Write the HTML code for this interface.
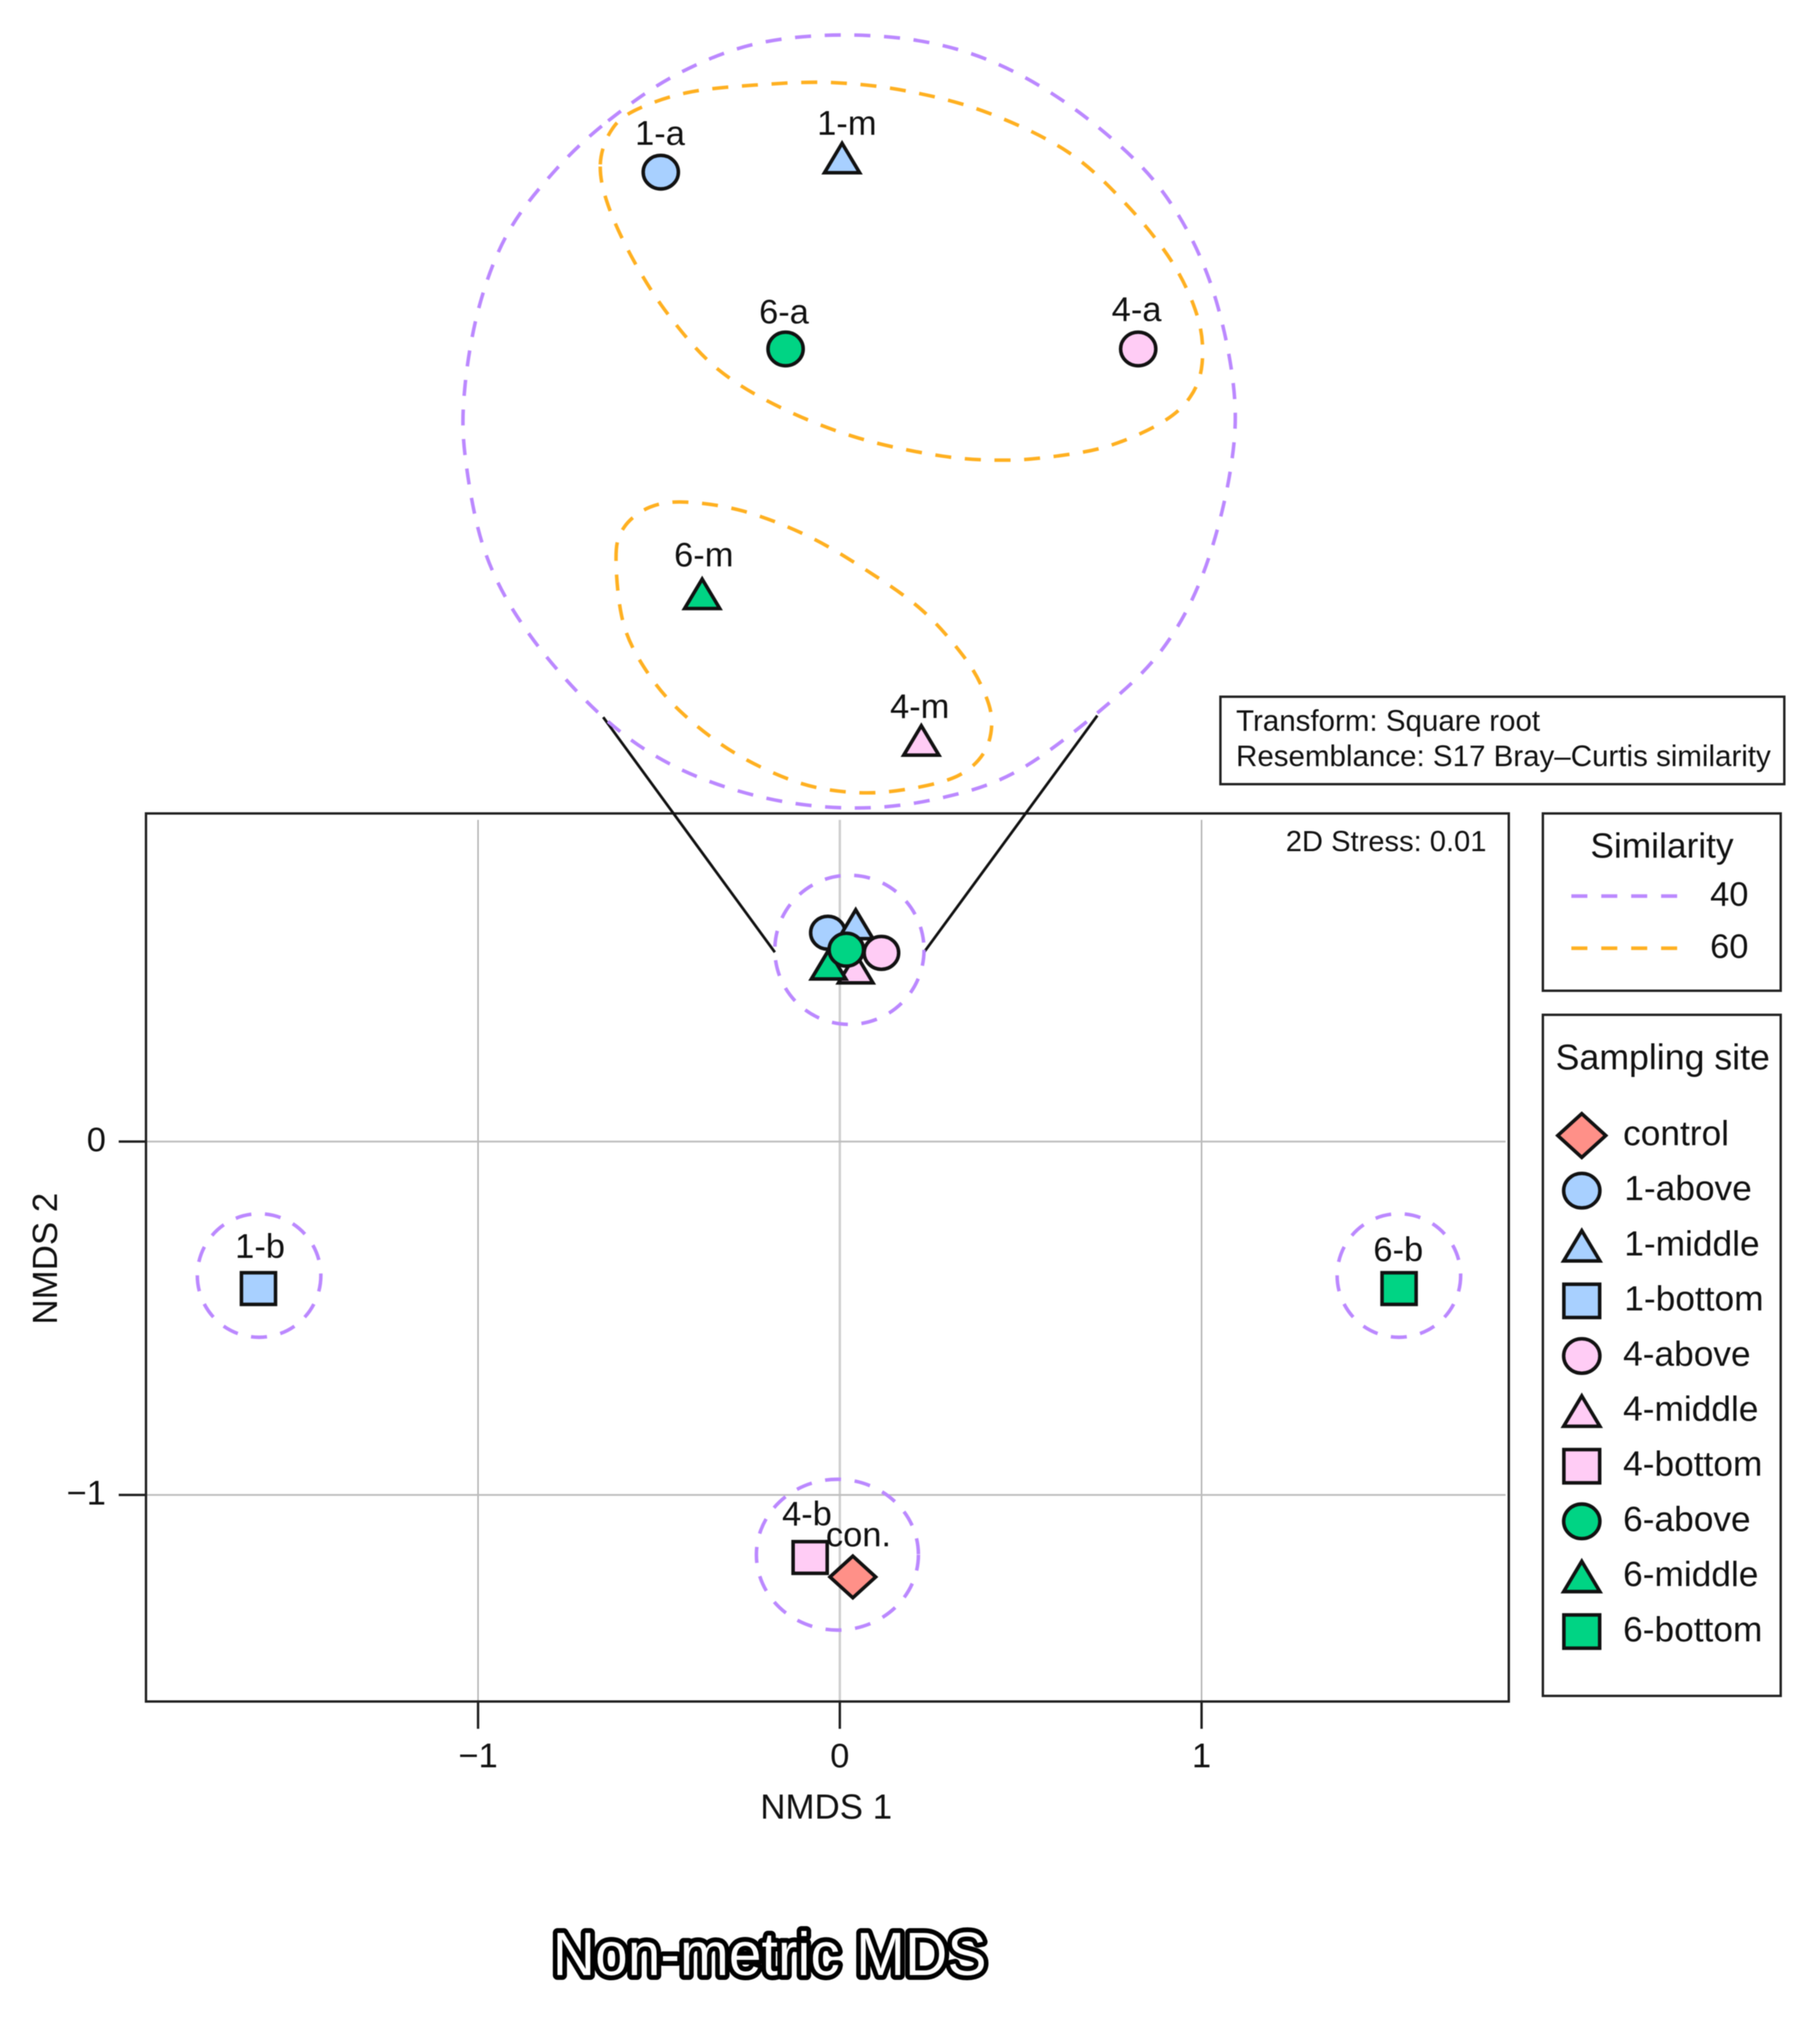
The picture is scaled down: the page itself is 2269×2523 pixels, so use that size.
<!DOCTYPE html>
<html lang="en">
<head>
<meta charset="utf-8">
<title>Non-metric MDS</title>
<style>
html,body{margin:0;padding:0;background:#fff;}
svg{display:block;filter:blur(0.6px);}
text{font-family:"Liberation Sans",sans-serif;fill:#111;}
</style>
</head>
<body>
<svg id="chart" xmlns="http://www.w3.org/2000/svg" width="2269" height="2523" viewBox="0 0 2269 2523">
  <rect x="0" y="0" width="2269" height="2523" fill="#fff"/>

  <g id="grid"></g>
  <rect x="182" y="1014" width="1699" height="1107" fill="none" stroke="#222" stroke-width="3"/>
  <g id="ticks"></g>

  <text x="1030" y="2267" font-size="43.5" text-anchor="middle">NMDS 1</text>
  <text transform="translate(71,1569) rotate(-90)" font-size="43.5" text-anchor="middle">NMDS 2</text>
  <text x="1603" y="1061" font-size="36.3">2D Stress: 0.01</text>

  <line x1="752" y1="894" x2="966" y2="1187" stroke="#111" stroke-width="3.4"/>
  <line x1="1368" y1="892" x2="1152" y2="1187" stroke="#111" stroke-width="3.4"/>

  <g fill="none" stroke="#bb88ff" stroke-width="4.4" stroke-dasharray="20 17">
    <ellipse cx="1059" cy="1184" rx="93" ry="93"/>
    <ellipse cx="323" cy="1590" rx="77" ry="77"/>
    <ellipse cx="1744" cy="1590" rx="77" ry="77"/>
    <ellipse cx="1044" cy="1938" rx="101" ry="94"/>
    <path class="outline"
      data-outline="320,205 450,115 600,55 775,37 950,55 1100,110 1250,210 1380,340 1470,510 1518,720 1512,890 1460,1090 1380,1240 1260,1360 1100,1478 950,1530 790,1548 620,1528 450,1468 310,1370 170,1210 85,1050 46,860 46,720 75,560 130,420 220,300"/>
  </g>
  <g fill="none" stroke="#ffb020" stroke-width="4.4" stroke-dasharray="20 17">
    <path class="outline"
      data-outline="305,290 325,225 370,185 470,150 600,135 750,130 900,148 1050,190 1200,265 1310,365 1400,480 1450,590 1458,680 1435,745 1380,795 1280,840 1180,860 1080,868 960,860 800,825 650,765 530,690 440,590 370,480 320,370"/>
    <path class="outline"
      data-outline="335,1060 350,1000 400,960 470,950 580,968 700,1015 810,1080 920,1160 1000,1250 1040,1320 1055,1380 1040,1440 990,1485 900,1510 800,1518 690,1500 570,1445 470,1370 400,1290 350,1190"/>
  </g>

  <g id="points"></g>
  <g id="inset"></g>

  <g>
    <rect x="1521.5" y="868.5" width="703" height="109" fill="#fff" stroke="#222" stroke-width="3"/>
    <text x="1541" y="911" font-size="36.8">Transform: Square root</text>
    <text x="1541" y="955" font-size="36.8">Resemblance: S17 Bray–Curtis similarity</text>
  </g>

  <g>
    <rect x="1923.5" y="1014" width="296.5" height="221" fill="#fff" stroke="#222" stroke-width="3"/>
    <text x="2072" y="1069" font-size="44" text-anchor="middle">Similarity</text>
    <line x1="1959" y1="1117" x2="2091" y2="1117" stroke="#bb88ff" stroke-width="4.4" stroke-dasharray="20 17.3"/>
    <text x="2132" y="1129" font-size="43">40</text>
    <line x1="1959" y1="1182" x2="2091" y2="1182" stroke="#ffb020" stroke-width="4.4" stroke-dasharray="20 17.3"/>
    <text x="2132" y="1194" font-size="43">60</text>
  </g>

  <g>
    <rect x="1923.5" y="1265" width="296.5" height="849" fill="#fff" stroke="#222" stroke-width="3"/>
    <text x="2073" y="1333" font-size="44.5" text-anchor="middle">Sampling site</text>
    <g id="legend"></g>
  </g>

  <text x="689" y="2462" font-size="76" textLength="541" lengthAdjust="spacingAndGlyphs" style="fill:#fff;stroke:#000;stroke-width:12;stroke-linejoin:round;paint-order:stroke fill;">Non-metric MDS</text>
</svg>

<script>
// Sample categories and styles
const plotLabels = ['1-a', '1-m', '1-b', '4-m', '4-a', '4-b', '6-m', '6-a', '6-b', 'con.'];
const plotShapes = ['circle', 'triangle', 'square', 'triangle', 'circle', 'square', 'triangle', 'circle', 'square', 'diamond'];
const plotFills = ['#a8d0ff', '#a8d0ff', '#a8d0ff', '#ffccf5', '#ffccf5', '#ffccf5', '#00d484', '#00d484', '#00d484', '#ff9088'];

// Ordination scores
const nmds1 = [-0.033, 0.044, -1.607, 0.044, 0.115, -0.082, -0.031, 0.018, 1.546, 0.036];
const nmds2 = [0.591, 0.615, -0.416, 0.490, 0.534, -1.177, 0.501, 0.543, -0.416, -1.232];

// Labels shown beside points in the main plot
const mainLabelled = ['1-b', '4-b', '6-b', 'con.'];

// Magnified inset: same samples on a stretched scale
const insetLabels = ['1-a', '1-m', '4-a', '4-m', '6-a', '6-m'];
const insetShapes = ['circle', 'triangle', 'circle', 'triangle', 'circle', 'triangle'];
const insetFills = ['#a8d0ff', '#a8d0ff', '#ffccf5', '#ffccf5', '#00d484', '#00d484'];
const insetNmds1 = [-0.0588, -0.0023, 0.0900, 0.0224, -0.0199, -0.0459];
const insetNmds2 = [0.0551, 0.0595, 0.0000, -0.1220, 0.0000, -0.0763];

// Axis ticks
const xTicks = [-1, 0, 1];
const yTicks = [0, -1];

// Legend entries
const legendNames = ['control', '1-above', '1-middle', '1-bottom', '4-above', '4-middle', '4-bottom', '6-above', '6-middle', '6-bottom'];
const legendShapes = ['diamond', 'circle', 'triangle', 'square', 'circle', 'triangle', 'square', 'circle', 'triangle', 'square'];
const legendFills = ['#ff9088', '#a8d0ff', '#a8d0ff', '#a8d0ff', '#ffccf5', '#ffccf5', '#ffccf5', '#00d484', '#00d484', '#00d484'];

const NS = 'http://www.w3.org/2000/svg';
const xScale = v => 1047 + v * 451;
const yScale = v => 1423 - v * 440.5;
const insetX = v => 1059 + v * 4000;
const insetY = v => 435 - v * 4000;
const legendY = i => 1415.5 + i * 68.7;

function make(tag, attrs, parent) {
  const node = document.createElementNS(NS, tag);
  for (const k in attrs) node.setAttribute(k, attrs[k]);
  parent.appendChild(node);
  return node;
}

function marker(shape, fill, cx, cy, scale, parent) {
  const common = { fill: fill, stroke: '#111', 'stroke-width': 4.4, 'stroke-linejoin': 'miter' };
  let pts;
  if (shape === 'circle') {
    return make('ellipse', Object.assign({ cx: cx, cy: cy, rx: 21.5 * scale, ry: 20.5 * scale }, common), parent);
  }
  if (shape === 'square') {
    const w = 42.5 * scale, h = 39.5 * scale;
    return make('rect', Object.assign({ x: cx - w / 2, y: cy - h / 2, width: w, height: h }, common), parent);
  }
  if (shape === 'triangle') {
    const hw = 21.5 * scale, hh = 18 * scale;
    pts = [cx, cy - hh, cx + hw, cy + hh, cx - hw, cy + hh];
  } else {
    const hw = 28.5 * scale, hh = 26 * scale;
    pts = [cx, cy - hh, cx + hw, cy, cx, cy + hh, cx - hw, cy];
  }
  return make('polygon', Object.assign({ points: pts.join(' ') }, common), parent);
}

function textAt(str, x, y, size, parent) {
  const t = make('text', { x: x, y: y, 'font-size': size, 'text-anchor': 'middle' }, parent);
  t.textContent = str;
  return t;
}

// Grid and ticks
const gridG = document.getElementById('grid');
const ticksG = document.getElementById('ticks');
xTicks.forEach(v => {
  const px = xScale(v);
  const g = make('line', { x1: px, x2: px, y1: 1022, y2: 2121, stroke: v === 0 ? '#cfcfcf' : '#b0b0b0', 'stroke-width': v === 0 ? 3 : 1.8 }, gridG);
  
  
  const t = make('line', { x1: px, x2: px, y1: 2121, y2: 2155, stroke: '#222', 'stroke-width': 3 }, ticksG);
  
  
  const l = textAt(String(v).replace('-', '\u2212'), px, 2203, 43, ticksG);
  
  
});
yTicks.forEach(v => {
  const py = yScale(v);
  const g = make('line', { x1: 182, x2: 1877, y1: py, y2: py, stroke: '#bdbdbd', 'stroke-width': 2.2 }, gridG);
  
  
  const t = make('line', { x1: 148, x2: 182, y1: py, y2: py, stroke: '#222', 'stroke-width': 3 }, ticksG);
  
  
  const l = make('text', { x: 132, y: py + 12, 'font-size': 43, 'text-anchor': 'end' }, ticksG);
  l.textContent = String(v).replace('-', '\u2212');
  
  
});

// Main points
const pointsG = document.getElementById('points');
const mainLabelOffsetX = { '1-b': 2, '4-b': -4, '6-b': -1, 'con.': 7 };
const mainLabelOffsetY = { '1-b': -38, '4-b': -40, '6-b': -34, 'con.': -38 };
plotLabels.forEach((name, i) => {
  const px = xScale(nmds1[i]);
  const py = yScale(nmds2[i]);
  const m = marker(plotShapes[i], plotFills[i], px, py, 1, pointsG);
  
  
});
plotLabels.forEach((name, i) => {
  if (mainLabelled.indexOf(name) < 0) return;
  const l = textAt(name, xScale(nmds1[i]) + mainLabelOffsetX[name], yScale(nmds2[i]) + mainLabelOffsetY[name], 43, pointsG);
  
  
});

// Inset points
const insetG = document.getElementById('inset');
const insetLabelOffsetX = { '1-a': -1, '1-m': 6, '4-a': -2, '4-m': -2, '6-a': -2, '6-m': 2 };
const insetLabelOffsetY = { '1-a': -34, '1-m': -29, '4-a': -35, '4-m': -28, '6-a': -32, '6-m': -34 };
insetLabels.forEach((name, i) => {
  const px = insetX(insetNmds1[i]);
  const py = insetY(insetNmds2[i]);
  const m = marker(insetShapes[i], insetFills[i], px, py, 1.02, insetG);
  
  
  const l = textAt(name, px + insetLabelOffsetX[name], py + insetLabelOffsetY[name], 43, insetG);
  
  
});

// Legend
const legendG = document.getElementById('legend');
legendNames.forEach((name, i) => {
  const y = legendY(i);
  const m = marker(legendShapes[i], legendFills[i], 1972, y, 1.05, legendG);
  
  
  const t = make('text', { x: name.charAt(0) === '1' ? 2025 : 2023.5, y: y + 12, 'font-size': 44 }, legendG);
  t.textContent = name;
  
  
});

// Inset contour outlines: smooth closed curves through hand-traced anchors
document.querySelectorAll('path.outline').forEach(path => {
  const p = path.getAttribute('data-outline').trim().split(/\s+/).map(s => {
    const a = s.split(',').map(Number);
    return [550 + a[0] / 1.537, 20 + a[1] / 1.568];
  });
  const n = p.length;
  let d = 'M' + p[0][0].toFixed(1) + ' ' + p[0][1].toFixed(1);
  for (let i = 0; i < n; i++) {
    const p0 = p[(i - 1 + n) % n], p1 = p[i], p2 = p[(i + 1) % n], p3 = p[(i + 2) % n];
    const c1x = p1[0] + (p2[0] - p0[0]) / 6, c1y = p1[1] + (p2[1] - p0[1]) / 6;
    const c2x = p2[0] - (p3[0] - p1[0]) / 6, c2y = p2[1] - (p3[1] - p1[1]) / 6;
    d += 'C' + c1x.toFixed(1) + ' ' + c1y.toFixed(1) + ' ' + c2x.toFixed(1) + ' ' + c2y.toFixed(1) + ' ' + p2[0].toFixed(1) + ' ' + p2[1].toFixed(1);
  }
  path.setAttribute('d', d + 'Z');
});
</script>
</body>
</html>
